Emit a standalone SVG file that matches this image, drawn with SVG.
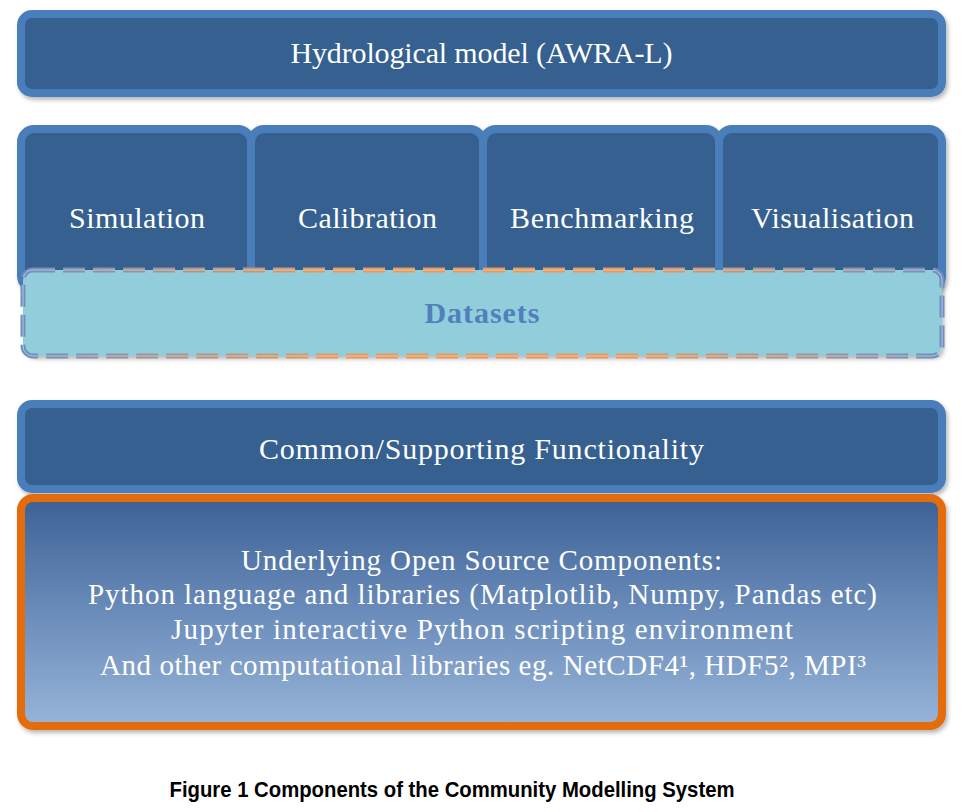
<svg xmlns="http://www.w3.org/2000/svg" width="963" height="812" viewBox="0 0 963 812">
  <style>
    .box { fill: #36608F; stroke: #4A7EBB; stroke-width: 8; }
    .w { fill: #FFFFFF; font-family: "Liberation Serif", "DejaVu Serif", serif; text-anchor: middle; }
    .t30 { font-size: 30px; }
    .t27 { font-size: 29px; }
  </style>
  <defs>
    <filter id="sh" x="-5%" y="-10%" width="110%" height="130%">
      <feDropShadow dx="2" dy="3" stdDeviation="2" flood-color="#000" flood-opacity="0.28"/>
    </filter>
    <linearGradient id="ug" x1="0" y1="0" x2="0" y2="1">
      <stop offset="0" stop-color="#3C6195"/>
      <stop offset="0.5" stop-color="#6A8CBA"/>
      <stop offset="1" stop-color="#97B4D8"/>
    </linearGradient>
    <linearGradient id="dg" x1="0" y1="0" x2="1" y2="0">
      <stop offset="0" stop-color="#6F8FBF"/>
      <stop offset="0.35" stop-color="#E9995A"/>
      <stop offset="0.65" stop-color="#E9995A"/>
      <stop offset="1" stop-color="#6F8FBF"/>
    </linearGradient>
  </defs>

  <g id="hydro">
    <rect class="box" x="21" y="14" width="921" height="79" rx="11" filter="url(#sh)"/>
    <text class="w t30" x="481.5" y="63" textLength="382" lengthAdjust="spacing">Hydrological model (AWRA-L)</text>
  </g>

  <g id="tab-simulation">
    <rect class="box" x="21" y="129" width="230" height="160" rx="13" filter="url(#sh)"/>
    <text class="w t30" x="137" y="228" textLength="136" lengthAdjust="spacing">Simulation</text>
  </g>
  <g id="tab-calibration">
    <rect class="box" x="251" y="129" width="232" height="160" rx="13" filter="url(#sh)"/>
    <text class="w t30" x="367.5" y="228" textLength="139" lengthAdjust="spacing">Calibration</text>
  </g>
  <g id="tab-benchmarking">
    <rect class="box" x="483" y="129" width="236" height="160" rx="13" filter="url(#sh)"/>
    <text class="w t30" x="602" y="228" textLength="184" lengthAdjust="spacing">Benchmarking</text>
  </g>
  <g id="tab-visualisation">
    <rect class="box" x="719" y="129" width="223" height="160" rx="13" filter="url(#sh)"/>
    <text class="w t30" x="832.5" y="228" textLength="163" lengthAdjust="spacing">Visualisation</text>
  </g>

  <g id="datasets">
    <rect x="23" y="270" width="919" height="86" rx="10" fill="#92CDDC" filter="url(#sh)"/>
    <rect x="23" y="270" width="919" height="86" rx="10" fill="none" stroke="url(#dg)" stroke-width="5" stroke-dasharray="22 8"/>
    <rect x="23" y="270" width="919" height="86" rx="10" fill="none" stroke="#DDEFF4" stroke-opacity="0.6" stroke-width="1" stroke-dasharray="22 8"/>
    <text x="482" y="323" fill="#4F81BD" font-family="Liberation Serif, DejaVu Serif, serif" font-size="30" font-weight="bold" text-anchor="middle" textLength="115" lengthAdjust="spacing">Datasets</text>
  </g>

  <g id="common">
    <rect class="box" x="21" y="404" width="921" height="85" rx="11" filter="url(#sh)"/>
    <text class="w t30" x="481.5" y="459" textLength="445" lengthAdjust="spacing">Common/Supporting Functionality</text>
  </g>

  <g id="underlying">
    <rect x="21" y="498" width="921" height="228" rx="12" fill="url(#ug)" stroke="#E46C0A" stroke-width="8" filter="url(#sh)"/>
    <text class="w t27" x="481.5" y="570" textLength="481" lengthAdjust="spacing">Underlying Open Source Components:</text>
    <text class="w t27" x="482.5" y="604" textLength="789" lengthAdjust="spacing">Python language and libraries (Matplotlib, Numpy, Pandas etc)</text>
    <text class="w t27" x="482" y="639" textLength="622" lengthAdjust="spacing">Jupyter interactive Python scripting environment</text>
    <text class="w t27" x="483" y="675" textLength="766" lengthAdjust="spacing">And other computational libraries eg. NetCDF4¹, HDF5², MPI³</text>
  </g>

  <g id="connectors"/>

  <text x="452" y="797" fill="#000000" font-family="Liberation Sans Narrow, Liberation Sans, Arial, sans-serif" font-size="22" font-weight="bold" text-anchor="middle" textLength="565" lengthAdjust="spacingAndGlyphs">Figure 1 Components of the Community Modelling System</text>
</svg>
